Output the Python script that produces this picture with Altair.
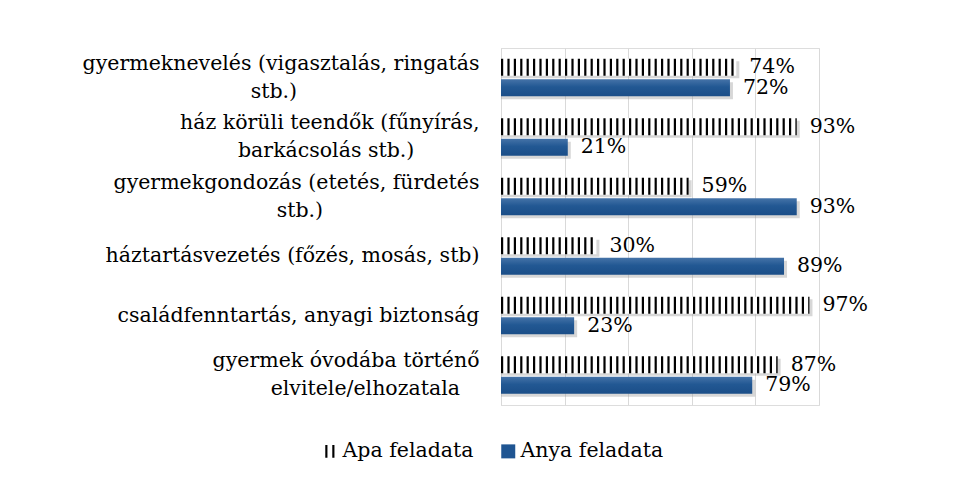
import altair as alt
import pandas as pd

categories = [
    "gyermeknevelés (vigasztalás, ringatás|stb.)",
    "ház körüli teendők (fűnyírás,|barkácsolás stb.)",
    "gyermekgondozás (etetés, fürdetés|stb.)",
    "háztartásvezetés (főzés, mosás, stb)",
    "családfenntartás, anyagi biztonság",
    "gyermek óvodába történő|elvitele/elhozatala",
]
apa = [74, 93, 59, 30, 97, 87]
anya = [72, 21, 93, 89, 23, 79]
series = ["Apa feladata", "Anya feladata"]

FONT = "DejaVu Serif"
FS = 20.5
BLUE = "#1f5592"

df = pd.DataFrame({
    "cat": categories,
    "apa": apa,
    "anya": anya,
    "zero": [0] * len(categories),
    "apa_lbl": [f"{v}%" for v in apa],
    "anya_lbl": [f"{v}%" for v in anya],
})
leg_df = pd.DataFrame({"series": series, "cat": [categories[0]] * 2, "zero": [0, 0]})

# second line of a two-line label is shifted so that it sits roughly centred under the first
label_expr = (
    "length(split(datum.label, '|')) > 1 ? "
    "[split(datum.label, '|')[0], "
    "pad(split(datum.label, '|')[1], "
    "length(split(datum.label, '|')[1]) + "
    "round(0.86 * (length(split(datum.label, '|')[0]) - length(split(datum.label, '|')[1]))), "
    "'\u00a0', 'right') + '\u2060'] "
    ": datum.label"
)

y_enc = alt.Y(
    "cat:N", sort=categories, title=None,
    scale=alt.Scale(paddingInner=0, paddingOuter=0),
    axis=alt.Axis(
        ticks=False, domain=True, domainColor="#d9d9d9", domainWidth=1,
        labelExpr=label_expr, labelFont=FONT, labelFontSize=FS,
        labelColor="black", labelPadding=22, labelLimit=0, labelAlign="right",
        labelBaseline={"condition": {"test": "indexof(datum.value, '|') >= 0",
                                     "value": "line-bottom"},
                       "value": "middle"},
        labelLineHeight=28, grid=False,
    ),
)
x_scale = alt.Scale(domain=[0, 100], nice=False)
x_axis = alt.Axis(labels=False, ticks=False, domain=False, title=None, grid=True,
                  values=[0, 20, 40, 60, 80, 100], gridColor="#d9d9d9", gridWidth=1)

base = alt.Chart(df)
yc = alt.Y("cat:N", sort=categories)

shadow_apa = base.mark_bar(size=17, color="#9a9a9a", opacity=0.4, xOffset=3, yOffset=-8).encode(
    x=alt.X("apa:Q", scale=x_scale, axis=x_axis), x2="zero:Q", y=y_enc)
shadow_anya = base.mark_bar(size=17, color="#9a9a9a", opacity=0.4, xOffset=3, yOffset=13).encode(
    x=alt.X("anya:Q", scale=x_scale), x2="zero:Q", y=yc)

apa_bg = base.mark_bar(size=17, color="white", yOffset=-10.5).encode(
    x=alt.X("apa:Q", scale=x_scale), x2="zero:Q", y=yc)
apa_stripes = base.mark_rule(color="black", strokeWidth=17, strokeDash=[2.2, 4.2],
                             strokeCap="butt", yOffset=-10.5).encode(
    x=alt.X("zero:Q", scale=x_scale), x2="apa:Q", y=yc)

grad = alt.Gradient(
    gradient="linear", x1=0, y1=0, x2=0, y2=1,
    stops=[alt.GradientStop(color="#4573a8", offset=0),
           alt.GradientStop(color="#225893", offset=0.45),
           alt.GradientStop(color="#1b4e88", offset=1)],
)
anya_bar = base.mark_bar(size=17, fill=grad, yOffset=10).encode(
    x=alt.X("anya:Q", scale=x_scale), x2="zero:Q", y=yc)

apa_txt = base.mark_text(align="left", baseline="middle", dx=13, yOffset=-10.5,
                         font=FONT, fontSize=FS, color="black").encode(
    x=alt.X("apa:Q", scale=x_scale), y=yc, text="apa_lbl:N")
anya_txt = base.mark_text(align="left", baseline="middle", dx=13, yOffset=10,
                          font=FONT, fontSize=FS, color="black").encode(
    x=alt.X("anya:Q", scale=x_scale), y=yc, text="anya_lbl:N")

II_PATH = "M-0.71,-0.9H-0.4V0.9H-0.71Z M0.29,-0.9H0.6V0.9H0.29Z"
legend_layer = alt.Chart(leg_df).mark_point(filled=True, opacity=0, size=10).encode(
    x=alt.X("zero:Q", scale=x_scale),
    y=yc,
    color=alt.Color("series:N", scale=alt.Scale(domain=series, range=["black", BLUE]),
                    legend=alt.Legend(title=None, orient="none", legendX=-181, legendY=393,
                                      direction="horizontal", labelFont=FONT, labelFontSize=FS,
                                      labelColor="black", symbolSize=196, symbolOpacity=1,
                                      symbolStrokeWidth=0, columnPadding=24, labelOffset=2)),
    shape=alt.Shape("series:N", scale=alt.Scale(domain=series, range=[II_PATH, "square"]),
                    legend=None),
)

chart = alt.layer(
    shadow_apa, shadow_anya, apa_bg, apa_stripes, anya_bar, apa_txt, anya_txt, legend_layer
).resolve_legend(color="shared").properties(
    width=318, height=357,
    autosize=alt.AutoSizeParams(type="none"),
    padding={"left": 493, "top": 40, "right": 120, "bottom": 70},
).configure_view(stroke=None).configure(background="white")

chart.save("out.html", embed_options={"renderer": "svg", "actions": False})
